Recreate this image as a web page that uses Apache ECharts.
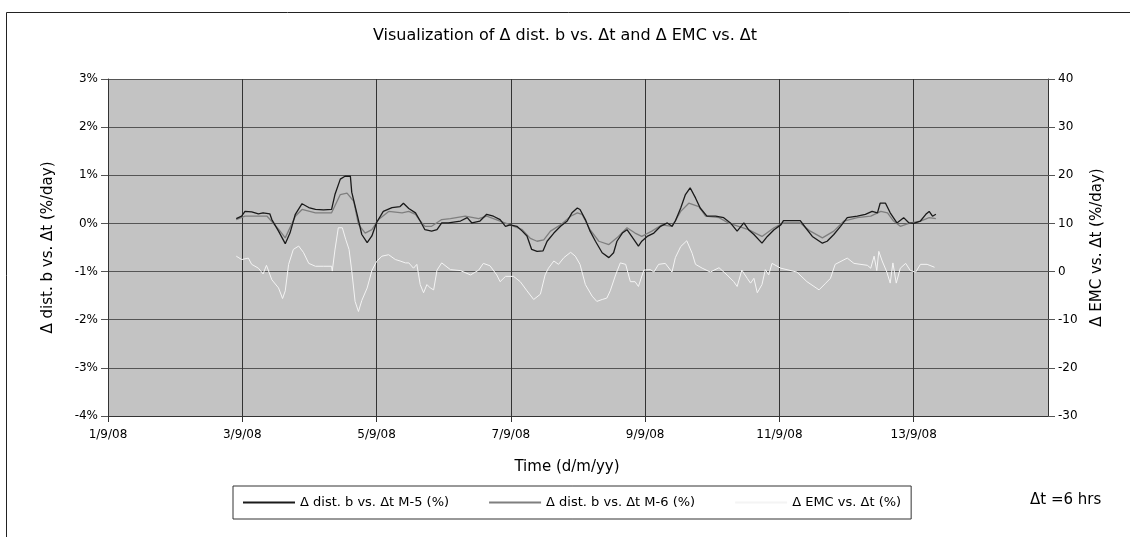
<!DOCTYPE html>
<html>
<head>
<meta charset="utf-8">
<script src="https://cdn.jsdelivr.net/npm/echarts@6/dist/echarts.min.js"></script>
<style>
  html, body { margin: 0; padding: 0; background: #fff; }
  #main { width: 1130px; height: 537px; }
</style>
</head>
<body>
<div id="main"></div>
<script>
// x = day of September 2008 (fractional), y = value
const seriesNames = [
    'Δ dist. b vs. Δt M-5 (%)',
    'Δ dist. b vs. Δt M-6 (%)',
    'Δ EMC vs. Δt (%)'
]

// left axis, %/day
const distM5 = [
    [2.91, 0.10], [2.99, 0.15], [3.04, 0.25], [3.14, 0.24], [3.24, 0.2], [3.31, 0.22], [3.41, 0.2],
    [3.44, 0.08], [3.54, -0.16], [3.64, -0.42], [3.71, -0.2], [3.79, 0.19], [3.89, 0.41], [3.99, 0.33],
    [4.09, 0.29], [4.21, 0.28], [4.33, 0.29], [4.38, 0.6], [4.46, 0.92], [4.53, 0.98], [4.61, 0.98],
    [4.63, 0.65], [4.71, 0.19], [4.78, -0.23], [4.86, -0.4], [4.93, -0.26], [5.0, 0.02], [5.1, 0.25],
    [5.23, 0.33], [5.35, 0.35], [5.4, 0.42], [5.48, 0.31], [5.58, 0.22], [5.65, 0.05], [5.72, -0.13],
    [5.82, -0.16], [5.9, -0.13], [5.97, 0.01], [6.07, 0.01], [6.25, 0.05], [6.35, 0.12], [6.42, 0.01],
    [6.54, 0.05], [6.64, 0.19], [6.74, 0.15], [6.84, 0.08], [6.92, -0.06], [6.99, -0.03], [7.09, -0.06],
    [7.17, -0.16], [7.24, -0.26], [7.31, -0.54], [7.39, -0.58], [7.48, -0.57], [7.54, -0.37], [7.64, -0.2],
    [7.74, -0.06], [7.84, 0.05], [7.91, 0.22], [7.99, 0.32], [8.03, 0.29], [8.11, 0.08], [8.18, -0.16],
    [8.26, -0.37], [8.36, -0.61], [8.46, -0.71], [8.53, -0.61], [8.58, -0.37], [8.66, -0.2], [8.73, -0.13],
    [8.8, -0.27], [8.9, -0.47], [8.95, -0.37], [9.03, -0.27], [9.13, -0.2], [9.23, -0.06], [9.33, 0.01],
    [9.4, -0.06], [9.45, 0.05], [9.53, 0.32], [9.6, 0.6], [9.67, 0.74], [9.75, 0.53], [9.82, 0.32],
    [9.92, 0.15], [10.05, 0.15], [10.17, 0.12], [10.27, 0.01], [10.37, -0.16], [10.47, 0.01], [10.54, -0.13],
    [10.62, -0.23], [10.64, -0.27], [10.74, -0.41], [10.82, -0.27], [10.92, -0.13], [11.02, -0.03],
    [11.06, 0.06], [11.31, 0.06], [11.39, -0.09], [11.49, -0.27], [11.64, -0.41], [11.71, -0.37],
    [11.81, -0.23], [11.91, -0.06], [12.01, 0.12], [12.16, 0.15], [12.28, 0.19], [12.38, 0.25],
    [12.46, 0.22], [12.5, 0.42], [12.58, 0.42], [12.65, 0.22], [12.75, 0.01], [12.85, 0.12], [12.93, 0.01],
    [13.0, 0.0], [13.1, 0.05], [13.18, 0.19], [13.23, 0.25], [13.28, 0.15], [13.33, 0.19]
]

const distM6 = [
    [2.91, 0.08], [3.04, 0.15], [3.24, 0.15], [3.37, 0.15], [3.54, -0.12], [3.64, -0.3], [3.79, 0.15],
    [3.89, 0.29], [4.09, 0.22], [4.33, 0.22], [4.46, 0.6], [4.56, 0.63], [4.66, 0.46], [4.73, -0.02],
    [4.83, -0.2], [4.93, -0.13], [5.03, 0.08], [5.18, 0.25], [5.38, 0.22], [5.48, 0.25], [5.58, 0.19],
    [5.65, 0.05], [5.72, -0.06], [5.82, -0.06], [5.97, 0.08], [6.1, 0.1], [6.32, 0.15], [6.52, 0.1],
    [6.64, 0.15], [6.84, 0.05], [6.99, -0.03], [7.17, -0.13], [7.29, -0.31], [7.39, -0.37], [7.49, -0.34],
    [7.59, -0.16], [7.74, -0.03], [7.89, 0.15], [7.99, 0.22], [8.06, 0.19], [8.18, -0.13], [8.31, -0.37],
    [8.46, -0.44], [8.58, -0.3], [8.73, -0.09], [8.85, -0.2], [8.95, -0.27], [9.1, -0.16], [9.25, -0.03],
    [9.4, -0.06], [9.53, 0.25], [9.65, 0.42], [9.8, 0.35], [9.9, 0.15], [10.1, 0.12], [10.24, 0.01],
    [10.39, -0.06], [10.54, -0.13], [10.64, -0.2], [10.74, -0.27], [10.92, -0.09], [11.06, 0.01],
    [11.31, 0.01], [11.46, -0.16], [11.64, -0.3], [11.81, -0.16], [11.96, 0.05], [12.16, 0.12],
    [12.36, 0.15], [12.51, 0.25], [12.61, 0.22], [12.7, 0.05], [12.8, -0.06], [12.95, 0.01], [13.1, 0.05],
    [13.23, 0.12], [13.33, 0.1]
]

// right axis, %/day
const emc = [
    [2.91, 3.2], [2.99, 2.5], [3.09, 2.8], [3.14, 1.5], [3.24, 0.7], [3.31, -0.5], [3.36, 1.3], [3.44, -1.7],
    [3.54, -3.4], [3.6, -5.6], [3.64, -4], [3.69, 1.5], [3.76, 4.6], [3.84, 5.3], [3.91, 4], [3.99, 1.7],
    [4.09, 1.1], [4.21, 1.1], [4.33, 1.1], [4.34, 0.1], [4.38, 4.5], [4.43, 9.1], [4.49, 9.1], [4.54, 6.7],
    [4.59, 4.6], [4.63, 0.2], [4.68, -6.2], [4.73, -8.3], [4.78, -6], [4.86, -3.4], [4.93, 0.2], [5.0, 2.1],
    [5.08, 3.2], [5.18, 3.5], [5.28, 2.5], [5.35, 2.2], [5.43, 1.8], [5.48, 1.8], [5.55, 0.7], [5.6, 1.5],
    [5.65, -2.7], [5.7, -4.4], [5.75, -2.7], [5.8, -3.4], [5.85, -3.8], [5.9, 0.3], [5.97, 1.8], [6.1, 0.4],
    [6.25, 0.2], [6.4, -0.7], [6.52, 0.3], [6.59, 1.7], [6.69, 1.2], [6.79, -0.7], [6.84, -2.1], [6.92, -1],
    [7.04, -1], [7.14, -2.1], [7.24, -4], [7.34, -5.8], [7.44, -4.7], [7.51, -0.7], [7.56, 0.7], [7.64, 2.2],
    [7.71, 1.5], [7.79, 2.9], [7.89, 4], [7.96, 3.2], [8.03, 1.5], [8.11, -2.7], [8.21, -5.1], [8.28, -6.2],
    [8.36, -5.8], [8.43, -5.5], [8.48, -4], [8.56, -0.7], [8.63, 1.8], [8.71, 1.5], [8.78, -2.1], [8.85, -2.1],
    [8.9, -3.1], [8.98, 0.3], [9.08, 0.4], [9.13, -0.1], [9.2, 1.5], [9.3, 1.7], [9.4, -0.1], [9.45, 2.9],
    [9.53, 5.2], [9.62, 6.4], [9.7, 3.8], [9.75, 1.5], [9.85, 0.7], [9.97, -0.1], [10.1, 0.8], [10.22, -0.7],
    [10.32, -2.1], [10.37, -3.1], [10.44, 0.3], [10.52, -1.4], [10.57, -2.4], [10.62, -1.4], [10.67, -4.4],
    [10.74, -2.7], [10.79, 0.4], [10.84, -0.7], [10.89, 1.7], [11.02, 0.7], [11.26, -0.1], [11.41, -2.1],
    [11.59, -3.8], [11.69, -2.4], [11.76, -1.4], [11.83, 1.5], [12.01, 2.8], [12.11, 1.7], [12.31, 1.3],
    [12.36, 0.7], [12.41, 3.2], [12.45, 0.2], [12.48, 4.2], [12.53, 2.2], [12.6, -0.1], [12.65, -2.4],
    [12.69, 1.8], [12.74, -2.4], [12.8, 0.7], [12.88, 1.7], [12.95, 0.2], [13.03, -0.1], [13.1, 1.5],
    [13.2, 1.5], [13.31, 0.9]
]

const fontName = 'DejaVu Sans'

var chartDom = document.getElementById('main')
var myChart = echarts.init(chartDom)
var option

option = {
    backgroundColor: '#fff',
    animation: false,
    title: {
        text: 'Visualization of Δ dist. b vs. Δt and Δ EMC vs. Δt',
        left: 'center',
        top: 23,
        textStyle: { fontFamily: fontName, fontSize: 16, fontWeight: 'normal', color: '#000' }
    },
    grid: {
        left: 108,
        right: 82,
        top: 79,
        bottom: 121,
        show: true,
        backgroundColor: '#c3c3c3',
        borderWidth: 0
    },
    legend: {
        data: seriesNames,
        left: 233,
        top: 486,
        itemWidth: 52,
        itemHeight: 2,
        itemGap: 40,
        padding: [10, 10],
        borderColor: '#333',
        borderWidth: 1,
        icon: 'rect',
        textStyle: { fontFamily: fontName, fontSize: 13, color: '#000' }
    },
    xAxis: {
        type: 'value',
        min: 1,
        max: 15,
        interval: 2,
        name: 'Time (d/m/yy)',
        nameLocation: 'middle',
        nameGap: 44,
        nameTextStyle: { fontFamily: fontName, fontSize: 15, color: '#000', padding: [0, 22, 0, 0] },
        axisLine: { onZero: false, lineStyle: { color: '#333' } },
        axisTick: { show: true, length: 6, lineStyle: { color: '#333' } },
        axisLabel: {
            showMaxLabel: false,
            margin: 13,
            fontFamily: fontName,
            fontSize: 12,
            color: '#000',
            formatter: function (v) { return v + '/9/08' }
        },
        splitLine: { show: true, lineStyle: { color: '#333', width: 1 } }
    },
    yAxis: [
        {
            type: 'value',
            min: -4,
            max: 3,
            interval: 1,
            name: 'Δ dist. b vs. Δt (%/day)',
            nameLocation: 'middle',
            nameGap: 52,
            nameTextStyle: { fontFamily: fontName, fontSize: 15, color: '#000' },
            axisLine: { show: true, lineStyle: { color: '#333' } },
            axisTick: { show: true, length: 7, lineStyle: { color: '#555' } },
            axisLabel: {
                margin: 10,
                fontFamily: fontName,
                fontSize: 12,
                color: '#000',
                formatter: function (v) { return v + '%' }
            },
            splitLine: { show: true, lineStyle: { color: '#555', width: 1.2 } }
        },
        {
            type: 'value',
            min: -30,
            max: 40,
            interval: 10,
            position: 'right',
            name: 'Δ EMC vs. Δt (%/day)',
            nameLocation: 'middle',
            nameGap: 42,
            nameRotate: 90,
            nameTextStyle: { fontFamily: fontName, fontSize: 15, color: '#000' },
            axisLine: { show: true, lineStyle: { color: '#333' } },
            axisTick: { show: true, length: 7, lineStyle: { color: '#555' } },
            axisLabel: { margin: 10, fontFamily: fontName, fontSize: 12, color: '#000' },
            splitLine: { show: false }
        }
    ],
    series: [
        {
            name: seriesNames[0],
            type: 'line',
            yAxisIndex: 0,
            data: distM5,
            symbol: 'none',
            color: '#1a1a1a',
            lineStyle: { width: 1.3, color: '#1a1a1a' },
            z: 4
        },
        {
            name: seriesNames[1],
            type: 'line',
            yAxisIndex: 0,
            data: distM6,
            symbol: 'none',
            color: '#7f7f7f',
            lineStyle: { width: 1.3, color: '#7f7f7f' },
            z: 3
        },
        {
            name: seriesNames[2],
            type: 'line',
            yAxisIndex: 1,
            data: emc,
            symbol: 'none',
            color: '#f4f4f4',
            lineStyle: { width: 1, color: '#f4f4f4' },
            z: 2
        }
    ],
    graphic: [
        {
            type: 'rect',
            shape: { x: 6.5, y: 12.5, width: 1200, height: 600 },
            style: { fill: 'none', stroke: '#222', lineWidth: 1 },
            silent: true
        },
        {
            type: 'text',
            left: 1030,
            top: 493,
            style: { text: 'Δt =6 hrs', font: '15px "DejaVu Sans"', fill: '#000' }
        }
    ]
}

option && myChart.setOption(option)
</script>
</body>
</html>
